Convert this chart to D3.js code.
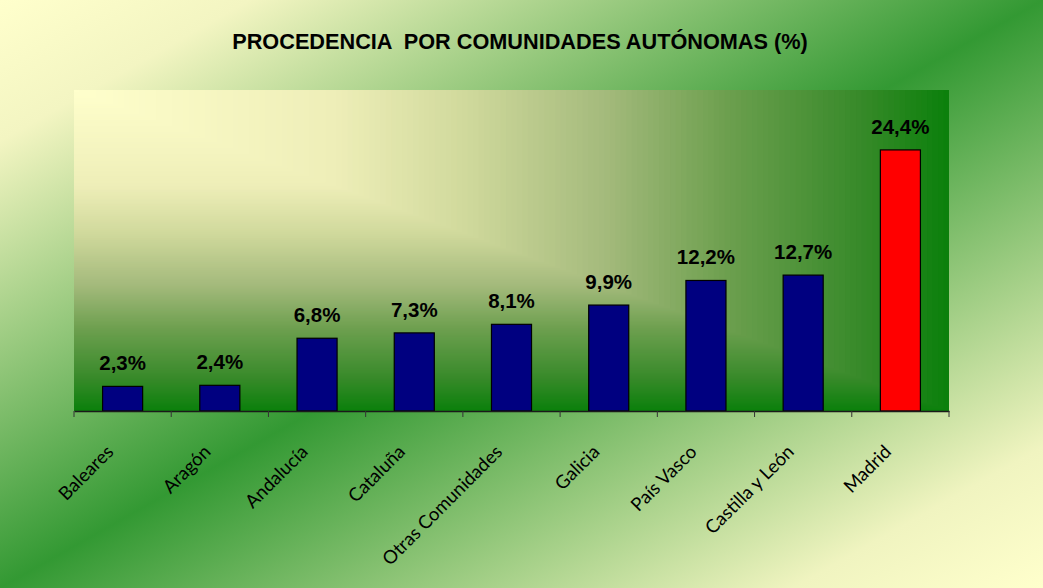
<!DOCTYPE html>
<html>
<head>
<meta charset="utf-8">
<script src="https://cdn.jsdelivr.net/npm/d3@7"></script>
<style>
  html, body { margin: 0; padding: 0; background: #ffffff; }
  svg { display: block; }
</style>
</head>
<body>
<svg id="chart" width="1043" height="588"></svg>
<script>
// ---- data ----
const categories = ["Baleares", "Aragón", "Andalucía", "Cataluña", "Otras Comunidades",
                    "Galicia", "País Vasco", "Castilla y León", "Madrid"];
const values = [2.3, 2.4, 6.8, 7.3, 8.1, 9.9, 12.2, 12.7, 24.4];
const highlight = ["Madrid"];
const yDomain = [0, 30];
const title = "PROCEDENCIA  POR COMUNIDADES AUTÓNOMAS (%)";

// ---- layout ----
const W = 1043, H = 588;
const plot = { left: 74, right: 949, top: 90, bottom: 411 };

const svg = d3.select("#chart");
const defs = svg.append("defs");

// outer background: diagonal yellow -> green -> yellow
const bg = defs.append("linearGradient").attr("id", "bgGrad")
  .attr("x1", 0).attr("y1", 0).attr("x2", 1).attr("y2", 1);
bg.append("stop").attr("offset", "0%").attr("stop-color", "#ffffcc");
bg.append("stop").attr("offset", "12%").attr("stop-color", "#f3f5c2");
bg.append("stop").attr("offset", "50%").attr("stop-color", "#339933");
bg.append("stop").attr("offset", "88%").attr("stop-color", "#f0f4c0");
bg.append("stop").attr("offset", "100%").attr("stop-color", "#ffffcc");
svg.append("rect").attr("x", 0).attr("y", 0).attr("width", W).attr("height", H)
  .attr("fill", "url(#bgGrad)");

// plot area: "from corner" gradient (top-left light -> right/bottom green)
const cornerColor = d3.scaleLinear()
  .domain([0, 0.3, 0.45, 0.61, 0.75, 0.9, 1])
  .range(["#ffffcc", "#eeeeb8", "#d0d99c", "#a4ba7c", "#6c9f4e", "#388a2a", "#0c800c"])
  .interpolate(d3.interpolateRgb);
const pw = plot.right - plot.left, ph = plot.bottom - plot.top;
const N = 160;
const steps = d3.range(N, 0, -1).map(i => i / N);
svg.append("g").selectAll("rect").data(steps).join("rect")
  .attr("x", plot.left).attr("y", plot.top)
  .attr("width", d => pw * d).attr("height", d => ph * d)
  .attr("fill", d => cornerColor(d));

// scales
const x = d3.scaleBand().domain(categories).range([plot.left, plot.right])
  .paddingInner(0.588).paddingOuter(0.294);
const y = d3.scaleLinear().domain(yDomain).range([plot.bottom, plot.top]);

// bars
const data = categories.map((c, i) => ({ c, v: values[i] }));
svg.append("g").selectAll("rect").data(data).join("rect")
  .attr("x", d => x(d.c)).attr("width", x.bandwidth())
  .attr("y", d => y(d.v)).attr("height", d => y(0) - y(d.v))
  .attr("fill", d => highlight.includes(d.c) ? "#ff0000" : "#000080")
  .attr("stroke", "#000").attr("stroke-width", 1.2);

// value labels
const fmt = v => d3.format(".1f")(v).replace(".", ",") + "%";
svg.append("g").selectAll("text").data(data).join("text")
  .attr("x", d => x(d.c) + x.bandwidth() / 2)
  .attr("y", d => y(d.v) - 16)
  .attr("text-anchor", "middle")
  .attr("font-family", "'Liberation Sans', Arial, sans-serif")
  .attr("font-weight", "bold").attr("font-size", 20.5)
  .attr("fill", "#000")
  .text(d => fmt(d.v));

// x axis line
const axis = d3.axisBottom(x).tickSize(0).tickFormat("");
const ax = svg.append("g").attr("transform", `translate(0,${plot.bottom})`).call(axis);
ax.select(".domain").attr("stroke", "#1a1a1a").attr("stroke-width", 1.3);
// category boundary ticks
const half = (x.step() - x.bandwidth()) / 2;
const bounds = categories.map(c => x(c) - half).concat([plot.right]);
svg.append("g").selectAll("line").data(bounds).join("line")
  .attr("x1", d => d).attr("x2", d => d)
  .attr("y1", plot.bottom).attr("y2", plot.bottom + 6)
  .attr("stroke", "#333").attr("stroke-width", 1);

// category labels
svg.append("g").selectAll("text").data(categories).join("text")
  .attr("transform", c => `translate(${x(c) + x.bandwidth() / 2 - 8},453) rotate(-45)`)
  .attr("text-anchor", "end")
  .attr("font-family", "Lato, 'Open Sans', sans-serif")
  .attr("font-size", 18.5)
  .attr("fill", "#000")
  .text(c => c);

// title
svg.append("text")
  .attr("x", 520).attr("y", 49)
  .attr("text-anchor", "middle")
  .attr("font-family", "'Liberation Sans', Arial, sans-serif")
  .attr("font-weight", "bold").attr("font-size", 21.7)
  .attr("fill", "#000")
  .style("white-space", "pre")
  .text(title);
</script>
</body>
</html>
